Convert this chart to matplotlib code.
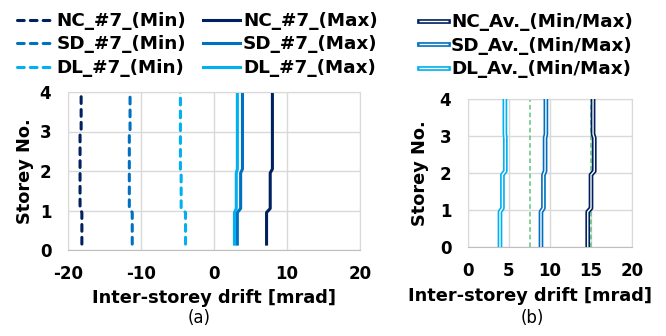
import numpy as np
import matplotlib.pyplot as plt
import matplotlib.patheffects as pe

plt.rcParams['font.family'] = ['DejaVu Sans']
plt.rcParams['axes.unicode_minus'] = False

# storey levels for the step profiles
y_a = [0.15, 0.95, 1.05, 1.95, 2.05, 2.95, 3.05, 4.0]
y_b = [0.0, 0.95, 1.05, 1.95, 2.05, 2.95, 3.05, 4.0]

# (a) record #7, per storey value (storey 1..4)
nc_min = [-18.1, -18.35, -18.35, -18.2]
sd_min = [-11.2, -11.6, -11.6, -11.5]
dl_min = [-3.9, -4.5, -4.6, -4.6]
nc_max = [7.2, 7.7, 8.0, 8.0]
sd_max = [3.2, 3.65, 3.9, 3.9]
dl_max = [2.8, 3.05, 3.2, 3.2]

# (b) averages
nc_av = [14.6, 15.0, 15.4, 15.25]
sd_av = [8.9, 9.2, 9.4, 9.5]
dl_av = [3.9, 4.2, 4.55, 4.5]
limits_b = [7.5, 15.0]

c_nc = '#002060'
c_sd = '#0070C0'
c_dl = '#00B0F0'
c_grid = '#D9D9D9'


def steps(v):
    return [v[0], v[0], v[1], v[1], v[2], v[2], v[3], v[3]]


fig = plt.figure(figsize=(6.66, 3.36), dpi=100)
W, H = 666, 336
FS = 12.8
LFS = 13.2


def make_ax(l, r, t, b):
    ax = fig.add_axes([l / W, 1 - b / H, (r - l) / W, (b - t) / H])
    for s in ax.spines.values():
        s.set_color(c_grid)
    ax.spines['bottom'].set_color('#BFBFBF')
    ax.grid(True, color=c_grid, lw=1)
    ax.set_axisbelow(True)
    ax.tick_params(length=0, labelsize=12)
    ax.tick_params(axis='x', pad=11)
    ax.tick_params(axis='y', pad=12)
    return ax


def bold_ticks(ax):
    for lab in ax.get_xticklabels() + ax.get_yticklabels():
        lab.set_fontweight('bold')


ax1 = make_ax(68, 360, 92, 250)
ax1.set_xlim(-20, 20)
ax1.set_ylim(0, 4)
ax1.set_xticks([-20, -10, 0, 10, 20])
ax1.set_yticks([0, 1, 2, 3, 4])
bold_ticks(ax1)

dash = (0, (2.2, 2.0))
lw = 2.2
dkw = dict(lw=lw, ls=dash, dash_capstyle='round')
ax1.plot(steps(nc_min), y_a, color=c_nc, label='NC_#7_(Min)', **dkw)
ax1.plot(steps(sd_min), y_a, color=c_sd, label='SD_#7_(Min)', **dkw)
ax1.plot(steps(dl_min), y_a, color=c_dl, label='DL_#7_(Min)', **dkw)
ax1.plot(steps(nc_max), y_a, color=c_nc, lw=lw, label='NC_#7_(Max)')
ax1.plot(steps(sd_max), y_a, color=c_sd, lw=lw, label='SD_#7_(Max)')
ax1.plot(steps(dl_max), y_a, color=c_dl, lw=lw, label='DL_#7_(Max)')
ax1.set_xlabel('Inter-storey drift [mrad]', fontsize=FS, fontweight='bold', labelpad=4)
ax1.set_ylabel('Storey No.', fontsize=FS, fontweight='bold', labelpad=4)
ax1.legend(ncol=2, loc='lower left', bbox_to_anchor=(-0.175, 1.095), frameon=False,
           prop={'weight': 'bold', 'size': LFS}, handlelength=2.0, handletextpad=0.15,
           columnspacing=0.95, labelspacing=0.3, borderaxespad=0, borderpad=0)

ax2 = make_ax(468, 632, 99, 247)
ax2.set_xlim(0, 20)
ax2.set_ylim(0, 4)
ax2.set_xticks([0, 5, 10, 15, 20])
ax2.set_yticks([0, 1, 2, 3, 4])
bold_ticks(ax2)

for xv in limits_b:
    ax2.axvline(xv, color='#5BC57E', lw=1.1, ls=(0, (3, 2)), zorder=1)

for v, c, name in [(nc_av, c_nc, 'NC'), (sd_av, c_sd, 'SD'), (dl_av, c_dl, 'DL')]:
    ax2.plot(steps(v), y_b, color='white', lw=1.0, solid_capstyle='butt', zorder=3,
             path_effects=[pe.Stroke(linewidth=3.4, foreground=c, capstyle='projecting'),
                           pe.Normal()],
             label=name + '_Av._(Min/Max)')
ax2.set_xlabel('Inter-storey drift [mrad]', fontsize=FS, fontweight='bold')
ax2.xaxis.set_label_coords(0.378, -0.27)
ax2.set_ylabel('Storey No.', fontsize=FS, fontweight='bold', labelpad=8)
ax2.legend(loc='lower left', bbox_to_anchor=(-0.3, 1.14), frameon=False,
           prop={'weight': 'bold', 'size': LFS}, handlelength=1.6, handletextpad=0.15,
           labelspacing=0.3, borderaxespad=0, borderpad=0)

fig.text(199 / W, 1 - 318 / H, '(a)', ha='center', va='center', fontsize=12)
fig.text(532 / W, 1 - 318 / H, '(b)', ha='center', va='center', fontsize=12)

fig.savefig('out.png', dpi=100)
